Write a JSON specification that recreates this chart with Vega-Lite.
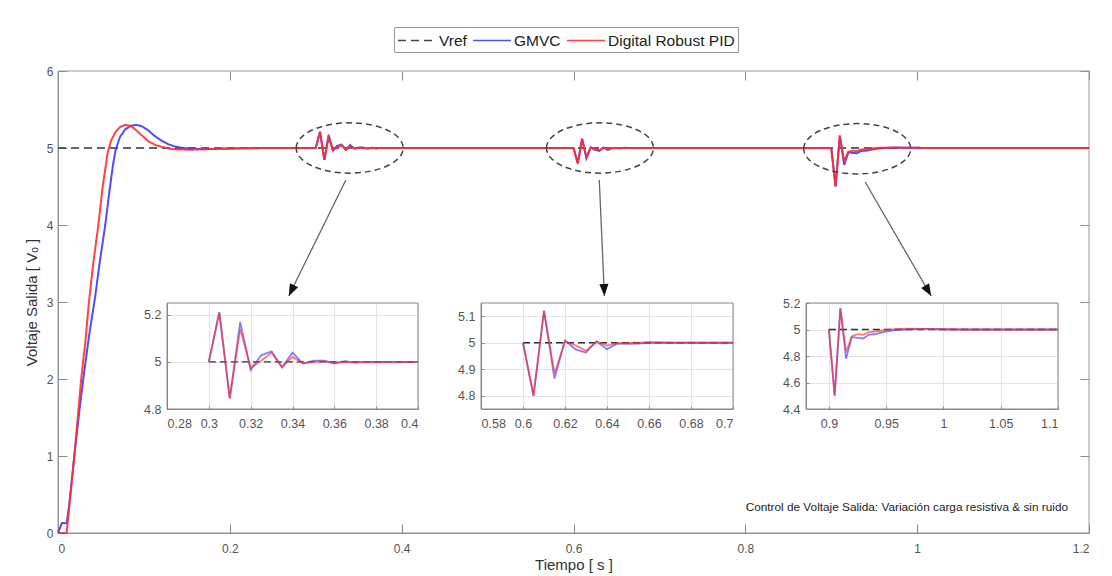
{
"$schema": "https://vega.github.io/schema/vega-lite/v6.json",
"background": "white",
"width": 1031, "height": 462,
"autosize": {"type": "none"},
"padding": {"left": 58, "top": 71, "right": 23, "bottom": 43},
"config": {
  "font": "Liberation Sans",
  "view": {"stroke": null},
  "axis": {"labelFont": "Liberation Sans", "titleFont": "Liberation Sans", "labelColor": "#555", "domainColor": "#888", "tickColor": "#888", "labelFontSize": 12, "titleFontWeight": "normal", "grid": false}
},
"datasets": {
  "series": [
    {"s":"Vref","t":0,"v":5},{"s":"Vref","t":0.3,"v":5},{"s":"Vref","t":0.4,"v":5},{"s":"Vref","t":0.6,"v":5},{"s":"Vref","t":0.7,"v":5},{"s":"Vref","t":0.9,"v":5},{"s":"Vref","t":1.1,"v":5},{"s":"Vref","t":1.2,"v":5},
    {"s":"GMVC","t":0,"v":0},{"s":"GMVC","t":0.0045,"v":0.13},{"s":"GMVC","t":0.0101,"v":0.125},{"s":"GMVC","t":0.013,"v":0.36},{"s":"GMVC","t":0.019,"v":1.0},{"s":"GMVC","t":0.025,"v":1.6},{"s":"GMVC","t":0.03,"v":2.05},{"s":"GMVC","t":0.036,"v":2.55},{"s":"GMVC","t":0.043,"v":3.05},{"s":"GMVC","t":0.049,"v":3.55},{"s":"GMVC","t":0.055,"v":4.0},{"s":"GMVC","t":0.06,"v":4.45},{"s":"GMVC","t":0.064,"v":4.78},{"s":"GMVC","t":0.067,"v":4.97},{"s":"GMVC","t":0.072,"v":5.14},{"s":"GMVC","t":0.078,"v":5.24},{"s":"GMVC","t":0.085,"v":5.29},{"s":"GMVC","t":0.092,"v":5.3},{"s":"GMVC","t":0.098,"v":5.28},{"s":"GMVC","t":0.105,"v":5.23},{"s":"GMVC","t":0.112,"v":5.16},{"s":"GMVC","t":0.12,"v":5.1},{"s":"GMVC","t":0.128,"v":5.05},{"s":"GMVC","t":0.136,"v":5.02},{"s":"GMVC","t":0.145,"v":5.0},{"s":"GMVC","t":0.155,"v":4.99},{"s":"GMVC","t":0.17,"v":4.985},{"s":"GMVC","t":0.19,"v":4.99},{"s":"GMVC","t":0.22,"v":4.997},{"s":"GMVC","t":0.25,"v":5.0},{"s":"GMVC","t":0.3,"v":5.0},
    {"s":"GMVC","t":0.305,"v":5.21},{"s":"GMVC","t":0.31,"v":4.845},{"s":"GMVC","t":0.315,"v":5.169},{"s":"GMVC","t":0.32,"v":4.965},{"s":"GMVC","t":0.325,"v":5.028},{"s":"GMVC","t":0.33,"v":5.045},{"s":"GMVC","t":0.335,"v":4.977},{"s":"GMVC","t":0.34,"v":5.039},{"s":"GMVC","t":0.345,"v":4.993},{"s":"GMVC","t":0.35,"v":5.005},{"s":"GMVC","t":0.355,"v":5.005},{"s":"GMVC","t":0.36,"v":4.995},{"s":"GMVC","t":0.365,"v":5.003},{"s":"GMVC","t":0.37,"v":4.997},{"s":"GMVC","t":0.375,"v":5.0},{"s":"GMVC","t":0.38,"v":5.0},{"s":"GMVC","t":0.39,"v":5.0},{"s":"GMVC","t":0.4,"v":5.0},{"s":"GMVC","t":0.6,"v":5.0},
    {"s":"GMVC","t":0.605,"v":4.8},{"s":"GMVC","t":0.61,"v":5.12},{"s":"GMVC","t":0.615,"v":4.865},{"s":"GMVC","t":0.62,"v":5.009},{"s":"GMVC","t":0.625,"v":4.975},{"s":"GMVC","t":0.63,"v":4.963},{"s":"GMVC","t":0.635,"v":5.005},{"s":"GMVC","t":0.64,"v":4.976},{"s":"GMVC","t":0.645,"v":4.997},{"s":"GMVC","t":0.65,"v":4.996},{"s":"GMVC","t":0.655,"v":4.997},{"s":"GMVC","t":0.66,"v":5.0},{"s":"GMVC","t":0.67,"v":5.0},{"s":"GMVC","t":0.7,"v":5.0},{"s":"GMVC","t":0.9,"v":5.0},
    {"s":"GMVC","t":0.905,"v":4.5},{"s":"GMVC","t":0.91,"v":5.16},{"s":"GMVC","t":0.915,"v":4.78},{"s":"GMVC","t":0.92,"v":4.944},{"s":"GMVC","t":0.925,"v":4.937},{"s":"GMVC","t":0.93,"v":4.932},{"s":"GMVC","t":0.935,"v":4.962},{"s":"GMVC","t":0.94,"v":4.964},{"s":"GMVC","t":0.945,"v":4.975},{"s":"GMVC","t":0.95,"v":4.985},{"s":"GMVC","t":0.955,"v":4.992},{"s":"GMVC","t":0.96,"v":4.997},{"s":"GMVC","t":0.97,"v":5.002},{"s":"GMVC","t":0.98,"v":5.004},{"s":"GMVC","t":0.99,"v":5.004},{"s":"GMVC","t":1.0,"v":5.002},{"s":"GMVC","t":1.02,"v":5.0},{"s":"GMVC","t":1.1,"v":5.0},{"s":"GMVC","t":1.2,"v":5.0},
    {"s":"Digital Robust PID","t":0,"v":0},{"s":"Digital Robust PID","t":0.0101,"v":0},{"s":"Digital Robust PID","t":0.019,"v":1.0},{"s":"Digital Robust PID","t":0.027,"v":2.0},{"s":"Digital Robust PID","t":0.032,"v":2.5},{"s":"Digital Robust PID","t":0.036,"v":3.0},{"s":"Digital Robust PID","t":0.041,"v":3.5},{"s":"Digital Robust PID","t":0.047,"v":4.0},{"s":"Digital Robust PID","t":0.052,"v":4.5},{"s":"Digital Robust PID","t":0.058,"v":4.95},{"s":"Digital Robust PID","t":0.062,"v":5.1},{"s":"Digital Robust PID","t":0.067,"v":5.21},{"s":"Digital Robust PID","t":0.072,"v":5.27},{"s":"Digital Robust PID","t":0.078,"v":5.3},{"s":"Digital Robust PID","t":0.084,"v":5.29},{"s":"Digital Robust PID","t":0.09,"v":5.24},{"s":"Digital Robust PID","t":0.097,"v":5.17},{"s":"Digital Robust PID","t":0.105,"v":5.09},{"s":"Digital Robust PID","t":0.113,"v":5.04},{"s":"Digital Robust PID","t":0.122,"v":5.01},{"s":"Digital Robust PID","t":0.13,"v":4.99},{"s":"Digital Robust PID","t":0.14,"v":4.98},{"s":"Digital Robust PID","t":0.155,"v":4.978},{"s":"Digital Robust PID","t":0.17,"v":4.983},{"s":"Digital Robust PID","t":0.19,"v":4.992},{"s":"Digital Robust PID","t":0.22,"v":4.998},{"s":"Digital Robust PID","t":0.25,"v":5.0},{"s":"Digital Robust PID","t":0.3,"v":5.0},
    {"s":"Digital Robust PID","t":0.305,"v":5.21},{"s":"Digital Robust PID","t":0.31,"v":4.845},{"s":"Digital Robust PID","t":0.315,"v":5.14},{"s":"Digital Robust PID","t":0.32,"v":4.976},{"s":"Digital Robust PID","t":0.325,"v":5.005},{"s":"Digital Robust PID","t":0.33,"v":5.039},{"s":"Digital Robust PID","t":0.335,"v":4.977},{"s":"Digital Robust PID","t":0.34,"v":5.021},{"s":"Digital Robust PID","t":0.345,"v":4.994},{"s":"Digital Robust PID","t":0.35,"v":5.0},{"s":"Digital Robust PID","t":0.355,"v":5.003},{"s":"Digital Robust PID","t":0.36,"v":4.993},{"s":"Digital Robust PID","t":0.365,"v":5.0},{"s":"Digital Robust PID","t":0.37,"v":4.998},{"s":"Digital Robust PID","t":0.375,"v":5.0},{"s":"Digital Robust PID","t":0.38,"v":4.999},{"s":"Digital Robust PID","t":0.39,"v":5.0},{"s":"Digital Robust PID","t":0.4,"v":5.0},{"s":"Digital Robust PID","t":0.6,"v":5.0},
    {"s":"Digital Robust PID","t":0.605,"v":4.8},{"s":"Digital Robust PID","t":0.61,"v":5.12},{"s":"Digital Robust PID","t":0.615,"v":4.884},{"s":"Digital Robust PID","t":0.62,"v":5.005},{"s":"Digital Robust PID","t":0.625,"v":4.99},{"s":"Digital Robust PID","t":0.63,"v":4.97},{"s":"Digital Robust PID","t":0.635,"v":5.005},{"s":"Digital Robust PID","t":0.64,"v":4.989},{"s":"Digital Robust PID","t":0.645,"v":4.998},{"s":"Digital Robust PID","t":0.65,"v":5.0},{"s":"Digital Robust PID","t":0.655,"v":5.0},{"s":"Digital Robust PID","t":0.66,"v":5.002},{"s":"Digital Robust PID","t":0.67,"v":5.0},{"s":"Digital Robust PID","t":0.7,"v":5.0},{"s":"Digital Robust PID","t":0.9,"v":5.0},
    {"s":"Digital Robust PID","t":0.905,"v":4.5},{"s":"Digital Robust PID","t":0.91,"v":5.16},{"s":"Digital Robust PID","t":0.915,"v":4.83},{"s":"Digital Robust PID","t":0.92,"v":4.95},{"s":"Digital Robust PID","t":0.925,"v":4.965},{"s":"Digital Robust PID","t":0.93,"v":4.96},{"s":"Digital Robust PID","t":0.935,"v":4.98},{"s":"Digital Robust PID","t":0.94,"v":4.985},{"s":"Digital Robust PID","t":0.945,"v":4.99},{"s":"Digital Robust PID","t":0.95,"v":4.997},{"s":"Digital Robust PID","t":0.96,"v":5.004},{"s":"Digital Robust PID","t":0.97,"v":5.006},{"s":"Digital Robust PID","t":0.98,"v":5.005},{"s":"Digital Robust PID","t":0.99,"v":5.003},{"s":"Digital Robust PID","t":1.0,"v":5.002},{"s":"Digital Robust PID","t":1.02,"v":5.0},{"s":"Digital Robust PID","t":1.1,"v":5.0},{"s":"Digital Robust PID","t":1.2,"v":5.0}
  ],
  "regions": [{"t":0.3395,"v":5.0},{"t":0.6308,"v":5.0},{"t":0.9302,"v":4.99}],
  "arrows": [
    {"id":1,"t":0.335,"v":4.584,"t2":0.2686,"v2":3.078},
    {"id":2,"t":0.630,"v":4.584,"t2":0.636,"v2":3.078},
    {"id":3,"t":0.9395,"v":4.558,"t2":1.0163,"v2":3.078}
  ],
  "note": [{"t":0.988,"v":0.34,"label":"Control de Voltaje Salida: Variación carga resistiva & sin ruido"}],
  "boxes": [{"id":0,"x0":0,"x1":1.2,"y0":0,"y1":6},{"id":1,"x0":0.28,"x1":0.4,"y0":4.8,"y1":5.25},{"id":2,"x0":0.58,"x1":0.7,"y0":4.75,"y1":5.15},{"id":3,"x0":0.88,"x1":1.1,"y0":4.4,"y1":5.2}]
},
"resolve": {"scale": {"x": "independent", "y": "independent"}, "axis": {"x": "independent", "y": "independent"}},
"layer": [
  {"data": {"name": "boxes"}, "transform": [{"filter": "datum.id === 0"}],
   "mark": {"type": "rect", "fill": null, "stroke": "#999", "strokeWidth": 1},
   "encoding": {
     "x": {"field": "x0", "type": "quantitative", "scale": {"domain": [0, 1.2], "nice": false},
           "axis": {"orient": "top", "values": [0,0.2,0.4,0.6,0.8,1,1.2], "labels": false, "domain": false, "tickSize": -9, "title": null}},
     "x2": {"field": "x1"},
     "y": {"field": "y0", "type": "quantitative", "scale": {"domain": [0, 6], "nice": false},
           "axis": {"orient": "right", "values": [0,1,2,3,4,5,6], "labels": false, "domain": false, "tickSize": -9, "title": null}},
     "y2": {"field": "y1"}
   }},
  {
    "encoding": {
      "x": {"field": "t", "type": "quantitative", "scale": {"domain": [0, 1.2], "nice": false},
            "axis": {"orient": "bottom", "values": [0,0.2,0.4,0.6,0.8,1,1.2], "format": "~g", "title": "Tiempo [ s ]", "titleFontSize": 15, "titleColor": "#333", "tickSize": -9, "labelPadding": 19, "titlePadding": 3}},
      "y": {"field": "v", "type": "quantitative", "scale": {"domain": [0, 6], "nice": false},
            "axis": {"orient": "left", "values": [0,1,2,3,4,5,6], "format": "~g", "title": "Voltaje Salida [ Vₒ ]", "titleFontSize": 15, "titleColor": "#333", "tickSize": -9, "labelPadding": 14, "titlePadding": 7}}
    },
    "layer": [
      {"data": {"name": "series"}, "transform": [{"filter": "datum.s === 'Vref'"}],
       "mark": {"type": "line", "strokeWidth": 1.5},
       "encoding": {
         "color": {"field": "s", "type": "nominal", "scale": {"domain": ["Vref","GMVC","Digital Robust PID"], "range": ["#333333","#3a3aff","#ff2f2f"]},
           "legend": {"title": null, "orient": "none", "legendX": 336, "legendY": -44, "direction": "horizontal", "strokeColor": "#999", "fillColor": "white", "padding": 3, "symbolType": "M-1,0H3", "symbolSize": 361, "symbolStrokeWidth": 1.5, "labelFontSize": 15.5, "labelColor": "#222", "labelOffset": 21, "columnPadding": 3}},
         "strokeDash": {"field": "s", "type": "nominal", "scale": {"domain": ["Vref","GMVC","Digital Robust PID"], "range": [[8,5],[1,0],[1,0]]},
           "legend": {"title": null, "orient": "none", "legendX": 336, "legendY": -44, "direction": "horizontal", "strokeColor": "#999", "fillColor": "white", "padding": 3, "symbolType": "M-1,0H3", "symbolSize": 361, "symbolStrokeWidth": 1.5, "labelFontSize": 15.5, "labelColor": "#222", "labelOffset": 21, "columnPadding": 3}}
       }},
      {"data": {"name": "series"}, "transform": [{"filter": "datum.s === 'GMVC'"}],
       "mark": {"type": "line", "strokeWidth": 2, "opacity": 0.9},
       "encoding": {"color": {"field": "s", "type": "nominal"}, "strokeDash": {"field": "s", "type": "nominal"}}},
      {"data": {"name": "series"}, "transform": [{"filter": "datum.s === 'Digital Robust PID'"}],
       "mark": {"type": "line", "strokeWidth": 2, "opacity": 0.9},
       "encoding": {"color": {"field": "s", "type": "nominal"}, "strokeDash": {"field": "s", "type": "nominal"}}},
      {"data": {"name": "regions"},
       "mark": {"type": "point", "shape": "M-1,0A1,0.47,0,1,1,1,0A1,0.47,0,1,1,-1,0Z", "size": 11449, "filled": false, "stroke": "#444", "strokeWidth": 1.5, "strokeDash": [6,4], "opacity": 1}},
      {"data": {"name": "arrows"},
       "mark": {"type": "rule", "stroke": "#666", "strokeWidth": 1.3},
       "encoding": {"x2": {"field": "t2"}, "y2": {"field": "v2"}}},
      {"data": {"name": "arrows"}, "transform": [{"filter": "datum.id === 1"}],
       "mark": {"type": "point", "shape": "M0,0L-0.38,-1L0.38,-1Z", "size": 576, "filled": true, "color": "#111", "opacity": 1, "angle": 26},
       "encoding": {"x": {"field": "t2", "type": "quantitative"}, "y": {"field": "v2", "type": "quantitative"}}},
      {"data": {"name": "arrows"}, "transform": [{"filter": "datum.id === 2"}],
       "mark": {"type": "point", "shape": "M0,0L-0.38,-1L0.38,-1Z", "size": 576, "filled": true, "color": "#111", "opacity": 1, "angle": -2.5},
       "encoding": {"x": {"field": "t2", "type": "quantitative"}, "y": {"field": "v2", "type": "quantitative"}}},
      {"data": {"name": "arrows"}, "transform": [{"filter": "datum.id === 3"}],
       "mark": {"type": "point", "shape": "M0,0L-0.38,-1L0.38,-1Z", "size": 576, "filled": true, "color": "#111", "opacity": 1, "angle": -30},
       "encoding": {"x": {"field": "t2", "type": "quantitative"}, "y": {"field": "v2", "type": "quantitative"}}},
      {"data": {"name": "note"},
       "mark": {"type": "text", "fontSize": 11.8, "color": "#222", "font": "Liberation Sans"},
       "encoding": {"text": {"field": "label"}}}
    ]
  },
  {"data": {"name": "boxes"}, "transform": [{"filter": "datum.id === 1"}],
   "mark": {"type": "rect", "fill": null, "stroke": null, "opacity": 0},
   "encoding": {
     "x": {"field": "x0", "type": "quantitative", "scale": {"domain": [0.28, 0.4], "nice": false, "range": [109, 360]},
           "axis": {"orient": "bottom", "offset": 0, "values": [0.28,0.3,0.32,0.34,0.36,0.38,0.4], "grid": true, "gridColor": "#e3e3e3", "domain": false, "ticks": false, "labels": false, "title": null}},
     "x2": {"field": "x1"},
     "y": {"field": "y0", "type": "quantitative", "scale": {"domain": [4.8, 5.25], "nice": false, "range": [124, 230]}, "axis": null},
     "y2": {"field": "y1"}
   }},
  {
    "data": {"name": "series"},
    "encoding": {
      "x": {"field": "t", "type": "quantitative", "scale": {"domain": [0.28, 0.4], "nice": false, "range": [109, 360]},
            "axis": {"orient": "bottom", "offset": -124, "values": [0.28,0.3,0.32,0.34,0.36,0.38,0.4], "format": "~g", "title": null, "tickSize": -3, "labelPadding": 11, "labelFontSize": 12.5}},
      "y": {"field": "v", "type": "quantitative", "scale": {"domain": [4.8, 5.25], "nice": false, "range": [338, 232]},
            "axis": {"orient": "left", "offset": -109, "values": [4.8,5,5.2], "format": "~g", "title": null, "grid": true, "gridColor": "#e3e3e3", "tickSize": -3, "labelPadding": 9, "labelFontSize": 12.5}}
    },
    "layer": [
      {"data": {"name": "boxes"}, "transform": [{"filter": "datum.id === 1"}],
       "mark": {"type": "rect", "fill": null, "stroke": "#888", "strokeWidth": 1},
       "encoding": {"x": {"field": "x0", "type": "quantitative"}, "x2": {"field": "x1"}, "y": {"field": "y0", "type": "quantitative"}, "y2": {"field": "y1"}}},
      {"transform": [{"filter": "datum.s === 'Vref' && datum.t >= 0.3 && datum.t <= 0.4"}], "mark": {"type": "line", "color": "#333", "strokeWidth": 1.3, "strokeDash": [7,4]}},
      {"transform": [{"filter": "datum.s === 'GMVC' && datum.t >= 0.3 && datum.t <= 0.4"}], "mark": {"type": "line", "color": "#3a3aff", "strokeWidth": 1.8, "opacity": 0.65}},
      {"transform": [{"filter": "datum.s === 'Digital Robust PID' && datum.t >= 0.3 && datum.t <= 0.4"}], "mark": {"type": "line", "color": "#ff2f2f", "strokeWidth": 1.8, "opacity": 0.65}}
    ]
  },
  {"data": {"name": "boxes"}, "transform": [{"filter": "datum.id === 2"}],
   "mark": {"type": "rect", "fill": null, "stroke": null, "opacity": 0},
   "encoding": {
     "x": {"field": "x0", "type": "quantitative", "scale": {"domain": [0.58, 0.7], "nice": false, "range": [423, 675]},
           "axis": {"orient": "bottom", "offset": 0, "values": [0.58,0.6,0.62,0.64,0.66,0.68,0.7], "grid": true, "gridColor": "#e3e3e3", "domain": false, "ticks": false, "labels": false, "title": null}},
     "x2": {"field": "x1"},
     "y": {"field": "y0", "type": "quantitative", "scale": {"domain": [4.75, 5.15], "nice": false, "range": [124, 230]}, "axis": null},
     "y2": {"field": "y1"}
   }},
  {
    "data": {"name": "series"},
    "encoding": {
      "x": {"field": "t", "type": "quantitative", "scale": {"domain": [0.58, 0.7], "nice": false, "range": [423, 675]},
            "axis": {"orient": "bottom", "offset": -124, "values": [0.58,0.6,0.62,0.64,0.66,0.68,0.7], "format": "~g", "title": null, "tickSize": -3, "labelPadding": 11, "labelFontSize": 12.5}},
      "y": {"field": "v", "type": "quantitative", "scale": {"domain": [4.75, 5.15], "nice": false, "range": [338, 232]},
            "axis": {"orient": "left", "offset": -423, "values": [4.8,4.9,5,5.1], "format": "~g", "title": null, "grid": true, "gridColor": "#e3e3e3", "tickSize": -3, "labelPadding": 9, "labelFontSize": 12.5}}
    },
    "layer": [
      {"data": {"name": "boxes"}, "transform": [{"filter": "datum.id === 2"}],
       "mark": {"type": "rect", "fill": null, "stroke": "#888", "strokeWidth": 1},
       "encoding": {"x": {"field": "x0", "type": "quantitative"}, "x2": {"field": "x1"}, "y": {"field": "y0", "type": "quantitative"}, "y2": {"field": "y1"}}},
      {"transform": [{"filter": "datum.s === 'Vref' && datum.t >= 0.6 && datum.t <= 0.7"}], "mark": {"type": "line", "color": "#333", "strokeWidth": 1.3, "strokeDash": [7,4]}},
      {"transform": [{"filter": "datum.s === 'GMVC' && datum.t >= 0.6 && datum.t <= 0.7"}], "mark": {"type": "line", "color": "#3a3aff", "strokeWidth": 1.8, "opacity": 0.65}},
      {"transform": [{"filter": "datum.s === 'Digital Robust PID' && datum.t >= 0.6 && datum.t <= 0.7"}], "mark": {"type": "line", "color": "#ff2f2f", "strokeWidth": 1.8, "opacity": 0.65}}
    ]
  },
  {"data": {"name": "boxes"}, "transform": [{"filter": "datum.id === 3"}],
   "mark": {"type": "rect", "fill": null, "stroke": null, "opacity": 0},
   "encoding": {
     "x": {"field": "x0", "type": "quantitative", "scale": {"domain": [0.88, 1.1], "nice": false, "range": [748, 1000]},
           "axis": {"orient": "bottom", "offset": 0, "values": [0.9,0.95,1,1.05,1.1], "grid": true, "gridColor": "#e3e3e3", "domain": false, "ticks": false, "labels": false, "title": null}},
     "x2": {"field": "x1"},
     "y": {"field": "y0", "type": "quantitative", "scale": {"domain": [4.4, 5.2], "nice": false, "range": [124, 230]}, "axis": null},
     "y2": {"field": "y1"}
   }},
  {
    "data": {"name": "series"},
    "encoding": {
      "x": {"field": "t", "type": "quantitative", "scale": {"domain": [0.88, 1.1], "nice": false, "range": [748, 1000]},
            "axis": {"orient": "bottom", "offset": -124, "values": [0.9,0.95,1,1.05,1.1], "format": "~g", "title": null, "tickSize": -3, "labelPadding": 11, "labelFontSize": 12.5}},
      "y": {"field": "v", "type": "quantitative", "scale": {"domain": [4.4, 5.2], "nice": false, "range": [338, 232]},
            "axis": {"orient": "left", "offset": -748, "values": [4.4,4.6,4.8,5,5.2], "format": "~g", "title": null, "grid": true, "gridColor": "#e3e3e3", "tickSize": -3, "labelPadding": 9, "labelFontSize": 12.5}}
    },
    "layer": [
      {"data": {"name": "boxes"}, "transform": [{"filter": "datum.id === 3"}],
       "mark": {"type": "rect", "fill": null, "stroke": "#888", "strokeWidth": 1},
       "encoding": {"x": {"field": "x0", "type": "quantitative"}, "x2": {"field": "x1"}, "y": {"field": "y0", "type": "quantitative"}, "y2": {"field": "y1"}}},
      {"transform": [{"filter": "datum.s === 'Vref' && datum.t >= 0.9 && datum.t <= 1.1"}], "mark": {"type": "line", "color": "#333", "strokeWidth": 1.3, "strokeDash": [7,4]}},
      {"transform": [{"filter": "datum.s === 'GMVC' && datum.t >= 0.9 && datum.t <= 1.1"}], "mark": {"type": "line", "color": "#3a3aff", "strokeWidth": 1.8, "opacity": 0.65}},
      {"transform": [{"filter": "datum.s === 'Digital Robust PID' && datum.t >= 0.9 && datum.t <= 1.1"}], "mark": {"type": "line", "color": "#ff2f2f", "strokeWidth": 1.8, "opacity": 0.65}}
    ]
  }
]
}
